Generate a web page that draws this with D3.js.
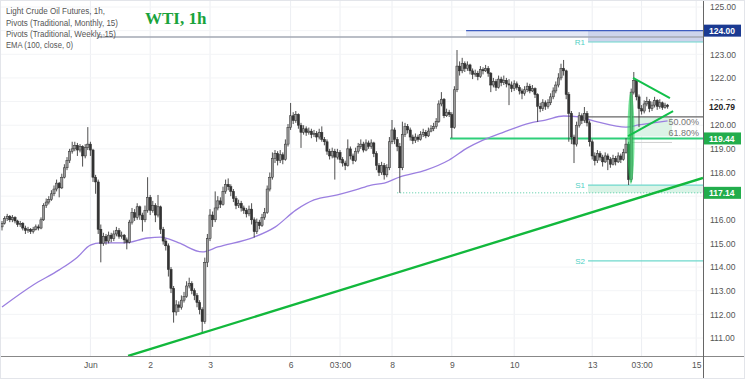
<!DOCTYPE html>
<html><head><meta charset="utf-8">
<script src="https://cdn.jsdelivr.net/npm/d3@7"></script>
<style>body{margin:0;background:#fff}svg{display:block}text{font-family:"Liberation Sans",Arial,sans-serif}</style>
</head><body><svg id="c" width="745" height="379"></svg>
<script>
// ---------- DATA ----------
const firstOpen = 115.70;
const closes = [
115.85,116.05,116.15,116.00,116.10,115.95,115.80,115.85,115.65,115.55,
115.60,115.50,115.60,115.70,115.65,116.00,116.60,116.75,116.85,117.10,
117.30,117.55,117.35,117.80,118.20,118.50,118.90,119.00,119.15,118.95,
119.10,118.70,119.05,119.20,118.95,117.80,117.60,115.60,115.00,115.30,
115.10,115.35,115.20,115.40,115.55,115.30,115.35,115.15,115.05,115.90,
116.30,116.10,116.55,116.20,116.00,116.40,116.95,116.40,116.60,116.20,
116.55,115.60,115.10,114.90,113.90,113.10,112.10,112.40,112.30,112.60,
112.75,113.20,113.30,113.00,112.80,112.50,112.20,111.70,114.20,115.20,
116.20,116.00,116.50,116.80,116.65,117.20,117.50,117.40,117.20,116.90,
116.60,116.70,116.50,116.40,116.25,116.45,116.00,115.50,115.90,115.75,
116.10,116.30,117.30,117.80,118.60,118.80,118.50,118.75,118.55,119.20,
119.90,120.40,120.20,120.45,120.00,119.70,119.85,119.70,119.75,119.60,
119.65,119.50,119.70,119.40,119.30,118.90,118.70,118.90,118.65,118.85,
118.55,118.40,118.30,119.00,118.70,118.50,118.90,119.10,119.20,118.95,
119.25,119.10,119.25,118.80,118.30,118.00,118.30,117.90,118.20,119.30,
119.80,119.40,119.10,118.20,119.60,119.95,119.80,119.50,119.35,119.50,
119.40,119.60,119.70,119.55,119.75,119.85,119.95,120.15,120.90,121.10,
120.40,120.55,120.45,119.90,121.50,122.50,122.30,122.60,122.40,122.55,
122.30,122.15,122.20,122.05,122.35,122.30,122.40,122.20,121.70,121.85,
121.60,121.95,121.80,121.90,121.75,121.70,121.55,121.75,121.60,121.45,
121.35,121.50,121.65,121.45,121.55,121.30,120.80,120.70,120.95,120.80,
120.95,121.20,121.45,121.70,122.00,122.40,122.30,121.30,120.50,119.50,
119.20,120.00,120.40,120.20,120.50,120.10,119.30,118.70,118.50,118.80,
118.65,118.45,118.70,118.55,118.35,118.60,118.45,118.70,118.55,118.85,
119.20,117.70,121.40,121.90,121.20,120.70,120.60,120.90,121.00,120.70,
120.85,121.05,120.80,120.95,120.75,120.85,120.79];
const highs = [
115.95,116.15,116.25,116.20,116.20,116.15,116.00,115.95,115.90,115.75,
115.70,115.65,115.70,115.80,115.80,116.10,116.70,116.90,117.00,117.25,
117.45,117.70,117.60,117.95,118.35,118.65,119.00,119.30,119.30,119.25,
119.20,119.15,119.20,119.92,119.30,119.00,117.90,117.70,115.80,115.45,
115.40,115.50,115.45,115.55,115.70,115.65,115.50,115.40,115.25,116.00,
116.50,116.45,116.70,116.60,116.30,116.60,117.80,117.05,116.80,116.70,
117.05,116.60,115.70,115.20,115.00,114.00,113.20,112.60,112.55,112.80,
112.95,113.40,113.55,113.40,113.10,112.90,112.60,112.30,114.40,115.40,
116.45,116.35,117.20,117.00,116.95,117.40,117.70,117.75,117.50,117.30,
117.00,116.85,116.80,116.60,116.50,116.60,116.70,116.10,116.05,116.00,
116.25,116.50,117.45,118.00,118.85,118.95,118.90,118.95,118.85,119.40,
120.05,120.94,120.55,120.60,120.50,120.10,120.00,119.95,119.90,119.85,
119.80,119.75,119.85,119.95,119.50,119.40,119.00,119.05,119.00,119.00,
118.95,118.65,118.50,119.40,119.10,118.80,119.05,119.25,119.40,119.30,
119.40,119.35,119.40,119.30,118.90,118.40,118.45,118.40,118.35,119.50,
120.22,119.90,119.50,119.25,120.15,120.10,120.05,119.90,119.60,119.65,
119.60,119.75,119.85,119.80,119.90,120.00,120.10,120.30,121.05,121.40,
121.15,120.70,120.65,120.55,121.65,123.18,122.70,122.85,122.70,122.70,
122.60,122.40,122.35,122.30,122.50,122.45,122.55,122.50,122.25,122.00,
121.95,122.10,122.05,122.10,122.00,121.95,121.85,121.90,121.85,121.70,
121.55,121.65,121.80,121.75,121.70,121.60,121.35,120.95,121.10,121.05,
121.10,121.35,121.60,121.85,122.20,122.60,122.76,122.35,121.40,120.60,
119.60,120.15,120.55,120.50,120.77,120.60,120.20,119.40,118.85,118.95,
118.90,118.75,118.85,118.80,118.65,118.75,118.70,118.85,118.80,119.00,
119.45,119.30,121.55,122.25,121.95,121.30,120.85,121.05,121.20,121.10,
121.00,121.20,121.10,121.10,121.00,120.95,120.90];
const lows = [
115.55,115.80,115.95,115.90,115.90,115.85,115.70,115.70,115.55,115.40,
115.45,115.40,115.42,115.55,115.55,115.60,115.95,116.50,116.65,116.80,
117.00,117.20,116.95,117.30,117.75,118.10,118.40,118.80,118.90,118.70,
118.85,118.25,118.60,118.95,118.70,117.60,117.10,115.40,114.20,114.90,
114.95,115.00,115.05,115.10,115.30,115.20,115.20,115.00,114.75,115.00,
115.80,115.95,116.00,116.00,115.50,115.90,116.30,116.20,116.30,115.90,
116.10,115.40,114.95,114.70,113.60,112.90,111.65,111.95,112.10,112.20,
112.50,112.70,113.10,112.85,112.60,112.30,112.00,111.20,111.60,114.00,
115.10,115.70,115.90,116.40,116.50,116.60,117.10,117.25,117.00,116.75,
116.45,116.50,116.35,116.25,116.10,116.15,115.80,115.25,115.40,115.60,
115.70,116.00,116.25,117.20,117.70,118.40,118.30,118.40,118.35,118.50,
119.10,119.80,120.05,120.10,119.85,119.04,119.60,119.55,119.60,119.45,
119.50,119.30,119.40,119.30,119.15,118.75,118.55,118.60,117.70,118.55,
118.40,118.25,118.10,118.25,118.55,118.35,118.45,118.80,119.00,118.85,
118.90,119.00,119.00,118.65,118.10,117.85,117.90,117.70,117.80,118.10,
119.20,119.20,118.90,117.14,118.10,119.50,119.65,119.35,119.20,119.25,
119.30,119.35,119.50,119.45,119.50,119.70,119.75,119.85,120.10,120.80,
120.30,120.35,120.35,119.46,119.85,121.40,122.10,122.20,122.25,122.30,
122.15,121.95,122.05,121.90,122.00,122.15,122.25,122.05,121.40,121.60,
121.45,121.55,121.65,121.70,121.60,120.85,121.40,121.45,121.50,121.30,
121.10,121.25,121.40,121.35,121.40,121.15,120.14,120.55,120.60,120.65,
120.70,120.85,121.10,121.35,121.60,121.90,122.10,121.10,119.30,119.20,
118.40,119.10,119.90,120.05,120.10,119.95,119.10,118.55,118.30,118.40,
118.50,118.25,118.40,118.10,118.20,118.30,118.30,118.40,118.40,118.50,
118.80,117.47,117.60,121.30,121.05,119.92,120.45,120.50,120.80,120.55,
120.60,120.75,120.65,120.70,120.65,120.70,120.70];

// EMA(100) (candle index, value)
const emaIndex = [0,12,22,29,34,38,47,56,61,68,77,83,97,105,113,120,129,136,142,147,153,163,172,179,185,193,203,209,216,222,229,240,245,256];
const emaValues = [112.31,113.24,113.88,114.42,114.93,115.02,115.02,115.23,115.27,115.02,114.64,114.85,115.27,115.69,116.41,116.84,117.05,117.26,117.47,117.55,117.81,118.10,118.53,119.04,119.37,119.71,120.09,120.22,120.39,120.35,120.14,119.92,120.01,120.18];

// x-axis ticks (candle index) and labels
const tickIndex = [34,57,80,111,130,150,173,197,227,246,267];
const tickLabels = ["Jun","2","3","6","03:00","8","9","10","13","03:00","15"];
const priceTicks = [111,112,113,114,115,116,118,119,120,121,122,123,125];
const gridTicks = [111,112,113,114,115,116,117,118,119,120,121,122,123,124,125];

// levels
const monthlyR1 = 123.73, weeklyR1 = 123.52, weeklyS1 = 117.47, weeklyS2 = 114.26;
const level124 = 124.00, level11944 = 119.44, level11714 = 117.14, fib50 = 120.35, fib618 = 119.44, lastPrice = 120.79;
// trend lines [index, price]
const trendMain = [[48.5,110.24],[269.6,117.77]];
const triUpper = [[242.7,122.00],[256.9,121.15]];
const triLower = [[240.8,119.54],[258.1,120.60]];
const highlight = {i:241.9, top:121.40, bottom:117.51};

// ---------- DRAW ----------
const svg = d3.select("#c");
const W = 745, H = 379, PR = 703, PB = 356;
const x = d3.scaleLinear().domain([0, 256]).range([2, 667.6]);
const y = d3.scaleLinear().domain([111, 125]).range([338, 7]);

svg.append("rect").attr("width",W).attr("height",H).attr("fill","#fff");
svg.append("defs").append("clipPath").attr("id","pc").append("rect").attr("x",0).attr("y",0).attr("width",PR).attr("height",PB);

const g = svg.append("g").attr("clip-path","url(#pc)");

// grid
g.selectAll(".vg").data(tickIndex).join("line").attr("x1",d=>x(d)).attr("x2",d=>x(d)).attr("y1",0).attr("y2",PB)
  .attr("stroke","#eceef2").attr("stroke-width",1);
g.selectAll(".hg").data(gridTicks).join("line").attr("x1",0).attr("x2",PR).attr("y1",d=>y(d)).attr("y2",d=>y(d))
  .attr("stroke","#f3f4f6").attr("stroke-width",1);

// pivot bands
g.append("rect").attr("x",x(178.5)).attr("width",PR-x(178.5)).attr("y",y(level124)).attr("height",y(monthlyR1)-y(level124)).attr("fill","#e4e8f5");
g.append("rect").attr("x",x(225.4)).attr("width",PR-x(225.4)).attr("y",y(level124)).attr("height",y(weeklyR1)-y(level124)).attr("fill","#cdd4ec");
g.append("rect").attr("x",x(225.4)).attr("width",PR-x(225.4)).attr("y",y(weeklyS1)).attr("height",y(level11714)-y(weeklyS1)).attr("fill","#d9f3e6");
// fib fill
g.append("rect").attr("x",x(242.3)).attr("width",x(257.7)-x(242.3)).attr("y",y(fib50)).attr("height",y(fib618)-y(fib50)-2).attr("fill","#dcf3e6");

// level lines
g.append("line").attr("x1",x(36.5)).attr("x2",PR).attr("y1",y(monthlyR1)).attr("y2",y(monthlyR1)).attr("stroke","#a3a8b3").attr("stroke-width",1.5);
g.append("line").attr("x1",x(178.5)).attr("x2",PR).attr("y1",y(level124)).attr("y2",y(level124)).attr("stroke","#3d5cc0").attr("stroke-width",1.3);
[weeklyR1, weeklyS1, weeklyS2].forEach(v=>{
  g.append("line").attr("x1",x(225.4)).attr("x2",PR).attr("y1",y(v)).attr("y2",y(v)).attr("stroke","#6fd8cc").attr("stroke-width",1.2);
});
g.append("line").attr("x1",x(152)).attr("x2",PR).attr("y1",y(level11714)).attr("y2",y(level11714)).attr("stroke","#4cc9a0").attr("stroke-width",1).attr("stroke-dasharray","1,2");
g.append("line").attr("x1",x(225)).attr("x2",PR).attr("y1",y(fib50)).attr("y2",y(fib50)).attr("stroke","#666").attr("stroke-width",1.2);
g.append("line").attr("x1",x(242.3)).attr("x2",x(257.7)).attr("y1",y(fib618)+4).attr("y2",y(fib618)+4).attr("stroke","#d0d0d0").attr("stroke-width",1);
g.append("line").attr("x1",x(172.3)).attr("x2",PR).attr("y1",y(level11944)).attr("y2",y(level11944)).attr("stroke","#2fcf7a").attr("stroke-width",2);

// EMA
const emaPts = emaIndex.map((d,k)=>[d, emaValues[k]]);
g.append("path").datum(emaPts).attr("fill","none").attr("stroke","#9b7fe0").attr("stroke-width",1.3)
  .attr("d", d3.line().x(d=>x(d[0])).y(d=>y(d[1])).curve(d3.curveMonotoneX));

// candles
const candles = closes.map((c,i)=>({i, o: i ? closes[i-1] : firstOpen, h: highs[i], l: lows[i], c}));
const cg = g.append("g");
cg.selectAll(".wk").data(candles).join("line")
  .attr("x1",d=>x(d.i)).attr("x2",d=>x(d.i)).attr("y1",d=>y(d.h)).attr("y2",d=>y(d.l))
  .attr("stroke","#3a3a3a").attr("stroke-width",0.9);
cg.selectAll(".bd").data(candles).join("rect")
  .attr("x",d=>x(d.i)-1.1).attr("width",2.2)
  .attr("y",d=>y(Math.max(d.o,d.c))).attr("height",d=>Math.max(1, Math.abs(y(d.o)-y(d.c))))
  .attr("fill",d=>d.c>=d.o ? "#9a9a9a" : "#333").attr("stroke","#2a2a2a").attr("stroke-width",0.5);

// highlight
g.append("ellipse").attr("cx",x(highlight.i)).attr("cy",(y(highlight.top)+y(highlight.bottom))/2)
  .attr("rx",3.6).attr("ry",(y(highlight.bottom)-y(highlight.top))/2).attr("fill","#22d35a").attr("opacity",0.6);

// trend lines
const tl = d3.line().x(d=>x(d[0])).y(d=>y(d[1]));
g.append("path").datum(trendMain).attr("d",tl).attr("stroke","#12b83c").attr("stroke-width",2.3).attr("fill","none");
[triUpper, triLower].forEach(t=> g.append("path").datum(t).attr("d",tl).attr("stroke","#12c04a").attr("stroke-width",2).attr("fill","none"));

// labels in plot
const lab = (t,xx,yy,col,fs,anchor)=>svg.append("text").attr("x",xx).attr("y",yy).attr("fill",col).attr("font-size",fs).attr("text-anchor",anchor||"start").text(t);
lab("R1", x(225.4)-3, y(weeklyR1)+3, "#4fd0c4", 8, "end");
lab("S1", x(225.4)-3, y(weeklyS1)+3, "#4fd0c4", 8, "end");
lab("S2", x(225.4)-3, y(weeklyS2)+3, "#4fd0c4", 8, "end");
lab("R1", x(36.5)+1, y(monthlyR1)+1, "#aaa", 6);
lab("50.00%", 699, y(fib50)+8, "#777", 9, "end");
lab("61.80%", 699, y(fib618)-2.5, "#777", 9, "end");

// legend
const leg = [["Light Crude Oil Futures, 1h,",14,99],["Pivots (Traditional, Monthly, 15)",26,112],["Pivots (Traditional, Weekly, 15)",37,110],["EMA (100, close, 0)",48,67]];
leg.forEach(([t,yy,w])=>svg.append("text").attr("x",6).attr("y",yy).attr("fill","#555").attr("font-size",8.5)
  .attr("textLength",w).attr("lengthAdjust","spacingAndGlyphs").text(t));
svg.append("text").attr("x",145).attr("y",24).attr("fill","#19a33c").attr("font-size",17).attr("font-weight","bold")
  .style("font-family","'Liberation Serif','Times New Roman',serif").text("WTI, 1h");

// axes
const ya = svg.append("g").attr("transform",`translate(${PR},0)`)
  .call(d3.axisRight(y).tickValues(priceTicks).tickFormat(d3.format(".2f")).tickSize(0).tickPadding(7));
ya.select(".domain").remove();
ya.selectAll("text").attr("fill","#555").attr("font-size",8.5).style("font-family","'Liberation Sans',Arial,sans-serif");
const xa = svg.append("g").attr("transform",`translate(0,${PB})`)
  .call(d3.axisBottom(x).tickValues(tickIndex).tickFormat((d,k)=>tickLabels[k]).tickSize(0).tickPadding(6));
xa.select(".domain").remove();
xa.selectAll("text").attr("fill","#555").attr("font-size",8.5).style("font-family","'Liberation Sans',Arial,sans-serif");

svg.append("line").attr("x1",0).attr("x2",W).attr("y1",PB+0.5).attr("y2",PB+0.5).attr("stroke","#888").attr("stroke-width",1);
svg.append("line").attr("x1",PR+0.5).attr("x2",PR+0.5).attr("y1",0).attr("y2",H).attr("stroke","#666").attr("stroke-width",1);

// price boxes
const box = (v,bg,fg)=>{
  svg.append("rect").attr("x",PR+1).attr("y",y(v)-6).attr("width",37).attr("height",12).attr("fill",bg);
  svg.append("text").attr("x",PR+6).attr("y",y(v)+3.2).attr("fill",fg).attr("font-size",8.5).attr("font-weight","bold").text(d3.format(".2f")(v));
};
box(level124,"#1b3a92","#fff");
box(lastPrice,"#fff","#222");
box(level11944,"#22ad4c","#fff");
box(level11714,"#22ad4c","#fff");

svg.append("rect").attr("x",0.5).attr("y",0.5).attr("width",W-1).attr("height",H-1).attr("fill","none").attr("stroke","#e3e5ea");
</script></body></html>
